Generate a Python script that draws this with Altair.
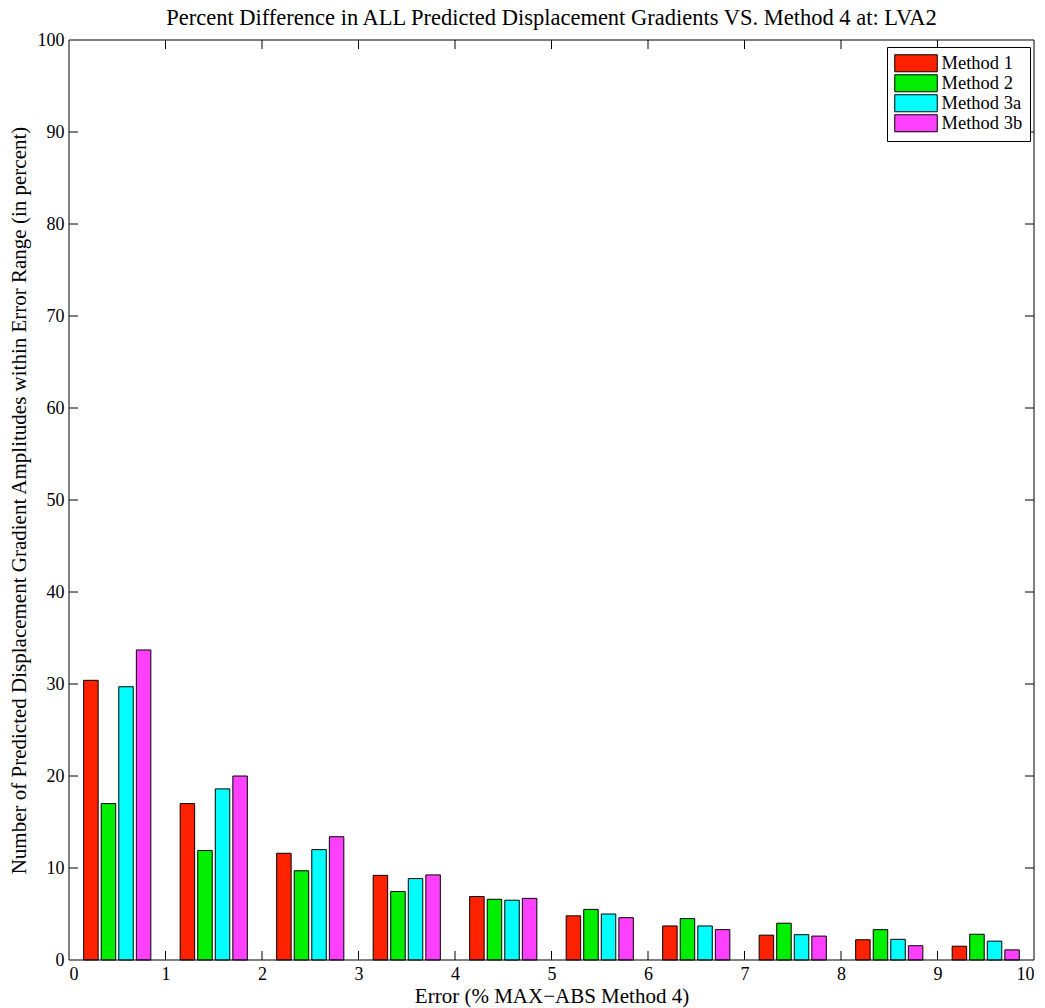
import altair as alt
import pandas as pd

# ---------------- data ----------------
methods = ["Method 1", "Method 2", "Method 3a", "Method 3b"]
colors = ["#FF2200", "#00EE00", "#00FFFF", "#FF40FF"]
bin_start = [0, 1, 2, 3, 4, 5, 6, 7, 8, 9]
method1 = [30.4, 17.0, 11.6, 9.2, 6.9, 4.8, 3.7, 2.7, 2.2, 1.5]
method2 = [17.0, 11.9, 9.7, 7.45, 6.6, 5.5, 4.5, 4.0, 3.3, 2.8]
method3a = [29.7, 18.6, 12.0, 8.85, 6.5, 5.0, 3.7, 2.75, 2.25, 2.05]
method3b = [33.7, 20.0, 13.4, 9.25, 6.7, 4.6, 3.3, 2.6, 1.55, 1.1]
x_ticks = [0, 1, 2, 3, 4, 5, 6, 7, 8, 9, 10]
y_ticks = [0, 10, 20, 30, 40, 50, 60, 70, 80, 90, 100]

title = "Percent Difference in ALL Predicted Displacement Gradients VS. Method 4 at: LVA2"
x_title = "Error (% MAX\u2212ABS Method 4)"
y_title = "Number of Predicted Displacement Gradient Amplitudes within Error Range (in percent)"

# ---------------- layout ----------------
W, H = 965, 920
offsets = [-0.273, -0.091, 0.091, 0.273]
bar_w = 0.15
tick_px = 9
tick_y = tick_px * 100 / H
tick_x = tick_px * 10 / W
FONT = "Liberation Serif"

rows = []
series = [method1, method2, method3a, method3b]
for m, vals, off in zip(methods, series, offsets):
    for b, v in zip(bin_start, vals):
        c = b + 0.5 + off
        rows.append({"method": m, "value": v, "xa": c - bar_w / 2, "xb": c + bar_w / 2})
df = pd.DataFrame(rows)

xmin, xmax = x_ticks[0], x_ticks[-1]
ymin, ymax = y_ticks[0], y_ticks[-1]
trows = []
for t in x_ticks[1:-1]:
    trows.append({"x1": t, "x2": t, "y1": ymin, "y2": ymin + tick_y})
    trows.append({"x1": t, "x2": t, "y1": ymax, "y2": ymax - tick_y})
for t in y_ticks[1:-1]:
    trows.append({"x1": xmin, "x2": xmin + tick_x, "y1": t, "y2": t})
    trows.append({"x1": xmax, "x2": xmax - tick_x, "y1": t, "y2": t})
# frame
trows.append({"x1": xmin, "x2": xmax, "y1": ymin, "y2": ymin})
trows.append({"x1": xmin, "x2": xmax, "y1": ymax, "y2": ymax})
trows.append({"x1": xmin, "x2": xmin, "y1": ymin, "y2": ymax})
trows.append({"x1": xmax, "x2": xmax, "y1": ymin, "y2": ymax})
tdf = pd.DataFrame(trows)

xscale = alt.Scale(domain=[xmin, xmax], nice=False, zero=False)
yscale = alt.Scale(domain=[ymin, ymax], nice=False)
xaxis = alt.Axis(values=x_ticks, format="d", title=x_title, labelPadding=5, titlePadding=2)
yaxis = alt.Axis(values=y_ticks, format="d", title=y_title, labelPadding=5, titlePadding=8)

bars = alt.Chart(df).mark_bar(stroke="black", strokeWidth=1, opacity=1).encode(
    x=alt.X("xa:Q", scale=xscale, axis=xaxis),
    x2="xb:Q",
    y=alt.Y("value:Q", scale=yscale, axis=yaxis),
    y2=alt.datum(0),
    color=alt.Color("method:N",
                    scale=alt.Scale(domain=methods, range=colors),
                    sort=methods,
                    legend=alt.Legend(
                        title=None, orient="none", legendX=818, legendY=7,
                        strokeColor="black", fillColor="white", padding=7,
                        symbolType="M-1,-1H4V1H-1Z", symbolSize=289,
                        symbolStrokeColor="black", symbolStrokeWidth=1,
                        symbolOpacity=1, labelOffset=29, rowPadding=-2.5,
                        labelFont=FONT, labelFontSize=18.5, labelColor="black")),
)

ticks = alt.Chart(tdf).mark_rule(color="black", strokeWidth=1).encode(
    x=alt.X("x1:Q", scale=xscale, axis=xaxis),
    x2="x2:Q",
    y=alt.Y("y1:Q", scale=yscale, axis=yaxis),
    y2="y2:Q",
)

chart = alt.layer(bars, ticks).properties(
    width=W, height=H,
    background="white",
    title=alt.TitleParams(title, font=FONT, fontSize=22.5, fontWeight="normal",
                          color="black", anchor="middle", offset=2),
    autosize=alt.AutoSizeParams(type="none"),
    padding={"left": 61, "top": 32, "right": 3, "bottom": 48},
).configure_view(
    stroke=None, fill="white"
).configure_axis(
    grid=False, domain=False, ticks=False,
    labelFont=FONT, labelFontSize=18, labelColor="black",
    titleFont=FONT, titleFontSize=21, titleFontWeight="normal", titleColor="black",
)

chart.save("out.html", embed_options={"renderer": "svg", "actions": False})
